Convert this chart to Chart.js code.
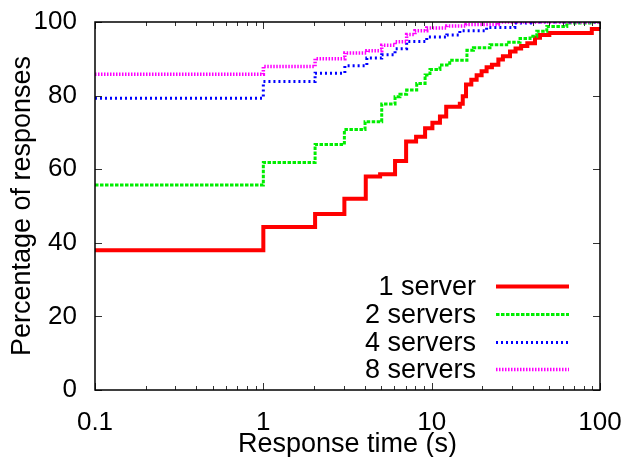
<!DOCTYPE html>
<html>
<head>
<meta charset="utf-8">
<script src="https://cdn.jsdelivr.net/npm/chart.js@4/dist/chart.umd.min.js"></script>
<style>
  html, body { margin: 0; padding: 0; background: #fff; }
  #wrap { width: 629px; height: 457px; }
</style>
</head>
<body>
<div id="wrap"><canvas id="grafico" width="629" height="457"></canvas></div>
<script>
// valores (tempo em s, % de respostas)
const seriesNames = ['1 server', '2 servers', '4 servers', '8 servers'];

const x1 = [0.1, 1, 2.03, 3.03, 4.06, 4.94, 6.06, 7.05, 8.08, 9.14, 10.1, 11.2, 12.2, 14.7, 15.3, 16.0, 17.2, 18.5, 19.8, 21.2, 22.8, 24.9, 26.5, 29.2, 31.5, 34, 37, 41.1, 44, 50, 89.4, 100];
const y1 = [38, 44.3, 47.8, 52, 58, 58.6, 62.2, 67.5, 68.8, 71.1, 72.6, 74.3, 77, 77.8, 79.8, 83, 84.3, 85.5, 86.6, 87.7, 88.4, 89.8, 90.7, 92, 92.8, 93.5, 94.2, 95.7, 96.5, 97, 98.1, 98.1];

const x2 = [0.1, 1, 2.03, 3.03, 4.02, 5.05, 6.06, 6.48, 7.1, 8.15, 9.14, 9.77, 11.2, 12.8, 16.2, 17.7, 22.2, 27.9, 33.5, 38.4, 42.1, 48.3, 63.5, 90, 100];
const y2 = [55.7, 61.8, 66.7, 70.8, 72.9, 77.7, 79.7, 80.4, 81.5, 83.3, 85.6, 87.1, 88.3, 89.6, 92.3, 93, 93.8, 94.5, 95.5, 96.1, 97.5, 98.8, 99.7, 100, 100];

const x4 = [0.1, 1, 2.03, 3.05, 4.12, 5.05, 6.06, 7.1, 9.35, 12.3, 14.7, 21.2, 31.2, 41, 100];
const y4 = [79.3, 83.8, 86.1, 88.1, 90.2, 91.1, 92.7, 94.7, 95.9, 96.5, 97.6, 98.5, 99.7, 100, 100];

const x8 = [0.1, 1, 2.03, 3.05, 4.12, 5.05, 6.06, 7.1, 7.96, 9.35, 12.3, 16, 24.9, 100];
const y8 = [85.8, 87.9, 90, 91.6, 92.2, 93.7, 94.6, 96.6, 97.6, 98.4, 98.9, 99.3, 100, 100];

const xTicks = [0.1, 0.2, 0.3, 0.4, 0.5, 0.6, 0.7, 0.8, 0.9, 1, 2, 3, 4, 5, 6, 7, 8, 9, 10, 20, 30, 40, 50, 60, 70, 80, 90, 100];
const yTicks = [0, 20, 40, 60, 80, 100];

const FONT = "'Liberation Sans', Arial, Helvetica, sans-serif";

function pontos(xs, ys) {
    return xs.map((x, i) => ({ x: x, y: ys[i] }));
}

function isMajor(v) {
    const l = Math.log10(v);
    return Math.abs(l - Math.round(l)) < 1e-9;
}

// moldura + marcas de escala para dentro, como no gnuplot
const molduraPlugin = {
    id: 'moldura',
    afterDatasetsDraw(chart) {
        const { ctx, chartArea: a, scales } = chart;
        ctx.save();
        ctx.strokeStyle = '#333';
        ctx.lineWidth = 1;
        xTicks.forEach(v => {
            const px = Math.round(scales.x.getPixelForValue(v)) + 0.5;
            const len = isMajor(v) ? 7 : 4;
            ctx.beginPath();
            ctx.moveTo(px, a.bottom); ctx.lineTo(px, a.bottom - len);
            ctx.moveTo(px, a.top); ctx.lineTo(px, a.top + len);
            ctx.stroke();
        });
        yTicks.forEach(v => {
            const py = Math.round(scales.y.getPixelForValue(v)) + 0.5;
            ctx.beginPath();
            ctx.moveTo(a.left, py); ctx.lineTo(a.left + 7, py);
            ctx.moveTo(a.right, py); ctx.lineTo(a.right - 7, py);
            ctx.stroke();
        });
        ctx.strokeStyle = '#000';
        ctx.lineWidth = 1.5;
        ctx.strokeRect(a.left, a.top, a.right - a.left, a.bottom - a.top);
        ctx.restore();
    }
};

// legenda no canto inferior direito: texto à direita alinhado, amostra da linha
const legendaPlugin = {
    id: 'legenda',
    afterDatasetsDraw(chart) {
        const { ctx, chartArea: a } = chart;
        ctx.save();
        ctx.font = '27px ' + FONT;
        ctx.textAlign = 'right';
        ctx.textBaseline = 'middle';
        chart.data.datasets.forEach((ds, i) => {
            const y = Math.round(a.bottom - 104 + i * 27.8) + 0.5;
            ctx.fillStyle = '#000';
            ctx.fillText(ds.label, a.right - 124, y + 1);
            ctx.strokeStyle = ds.borderColor;
            ctx.lineWidth = ds.borderWidth;
            ctx.setLineDash(ds.borderDash || []);
            ctx.beginPath();
            ctx.moveTo(a.right - 104, y);
            ctx.lineTo(a.right - 31, y);
            ctx.stroke();
        });
        ctx.restore();
    }
};

const ctx = document.getElementById('grafico').getContext('2d');

window.grafico = new Chart(ctx, {
    type: 'scatter',
    data: {
        datasets: [
            {
                label: seriesNames[0],
                data: pontos(x1, y1),
                borderColor: '#ff0000',
                borderWidth: 4,
                order: 4
            },
            {
                label: seriesNames[1],
                data: pontos(x2, y2),
                borderColor: '#00ee00',
                borderWidth: 3,
                borderDash: [3.5, 1.5],
                order: 3
            },
            {
                label: seriesNames[2],
                data: pontos(x4, y4),
                borderColor: '#0000ff',
                borderWidth: 3,
                borderDash: [2, 3],
                order: 2
            },
            {
                label: seriesNames[3],
                data: pontos(x8, y8),
                borderColor: '#ff00ff',
                borderWidth: 3.5,
                borderDash: [1.5, 1.5],
                order: 1
            }
        ]
    },
    options: {
        responsive: false,
        animation: false,
        showLine: true,
        elements: {
            point: { radius: 0, hoverRadius: 0 },
            line: { stepped: 'before', borderCapStyle: 'butt', fill: false }
        },
        layout: { padding: { top: 22, right: 29, left: 0, bottom: 0 } },
        plugins: {
            legend: { display: false },
            tooltip: { enabled: false }
        },
        scales: {
            x: {
                type: 'logarithmic',
                min: 0.1,
                max: 100,
                afterBuildTicks(scale) {
                    scale.ticks = xTicks.map(v => ({ value: v, major: isMajor(v) }));
                },
                afterFit(scale) {
                    scale.height = 67;
                    scale.paddingLeft = 0;
                    scale.paddingRight = 0;
                },
                grid: { display: false, drawTicks: false },
                border: { display: false },
                ticks: {
                    autoSkip: false,
                    maxRotation: 0,
                    padding: 17,
                    color: '#000',
                    font: { family: FONT, size: 26 },
                    callback: v => isMajor(v) ? String(v) : ''
                },
                title: {
                    display: true,
                    text: 'Response time (s)',
                    color: '#000',
                    padding: 0,
                    font: { family: FONT, size: 27, lineHeight: 0.95 }
                }
            },
            y: {
                type: 'linear',
                min: 0,
                max: 100,
                afterBuildTicks(scale) {
                    scale.ticks = yTicks.map(v => ({ value: v }));
                },
                afterFit(scale) {
                    scale.width = 95;
                    scale.paddingTop = 0;
                    scale.paddingBottom = 0;
                },
                grid: { display: false, drawTicks: false },
                border: { display: false },
                ticks: {
                    padding: 18,
                    color: '#000',
                    font: { family: FONT, size: 26 }
                },
                title: {
                    display: true,
                    text: 'Percentage of responses',
                    color: '#000',
                    padding: { top: 9, bottom: 0 },
                    font: { family: FONT, size: 27, lineHeight: 1 }
                }
            }
        }
    },
    plugins: [molduraPlugin, legendaPlugin]
});
</script>
</body>
</html>
